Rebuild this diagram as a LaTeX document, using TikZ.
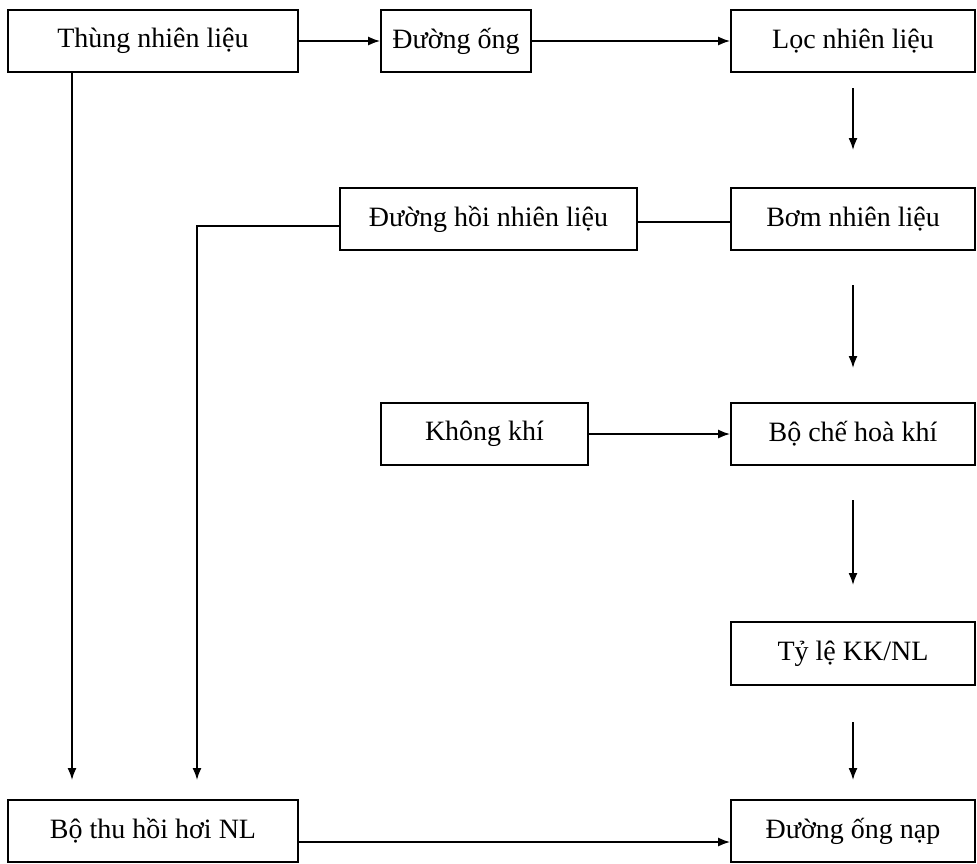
\documentclass[tikz,border=0pt]{standalone}
\usepackage{fontspec}
\setmainfont{Liberation Serif}
\usetikzlibrary{arrows.meta}
\begin{document}
\begin{tikzpicture}[x=1pt,y=-1pt,
  box/.style={draw,line width=1.8pt,inner sep=0pt,font=\fontsize{28}{32}\selectfont},
  arr/.style={line width=1.6pt,-{Latex[length=12pt,width=9pt]}},
  ln/.style={line width=1.6pt}]
\useasboundingbox (0,0) rectangle (977,863);
\newcommand{\bx}[6]{\node[box,minimum width=#4-#2,minimum height=#5-#3] (#1) at ({(#2+#4)/2},{(#3+#5)/2}) {#6};}
\bx{thung}{8}{10}{298}{72}{Thùng nhiên liệu}
\bx{duong}{381}{10}{531}{72}{Đường ống}
\bx{loc}{731}{10}{975}{72}{Lọc nhiên liệu}
\bx{hoi}{340}{188}{637}{250}{Đường hồi nhiên liệu}
\bx{bom}{731}{188}{975}{250}{Bơm nhiên liệu}
\bx{kk}{381}{403}{588}{465}{Không khí}
\bx{boche}{731}{403}{975}{465}{Bộ chế hoà khí}
\bx{tyle}{731}{622}{975}{685}{Tỷ lệ KK/NL}
\bx{thu}{8}{800}{298}{862}{Bộ thu hồi hơi NL}
\bx{nap}{731}{800}{975}{862}{Đường ống nạp}

\coordinate (a1) at (853,88);  \coordinate (a2) at (853,150);
\coordinate (b1) at (853,285); \coordinate (b2) at (853,368);
\coordinate (c1) at (853,500); \coordinate (c2) at (853,585);
\coordinate (d1) at (853,722); \coordinate (d2) at (853,780);
\coordinate (t2) at (72,780);
\coordinate (h1) at (197,226); \coordinate (h2) at (197,780);

\draw[arr] (thung.east) -- (duong.west);
\draw[arr] (duong.east) -- (loc.west);
\draw[arr] (a1) -- (a2);
\draw[arr] (b1) -- (b2);
\draw[arr] (c1) -- (c2);
\draw[arr] (d1) -- (d2);
\draw[arr] (thung.south -| t2) -- (t2);
\draw[ln] (bom.west |- 0,222) -- (hoi.east |- 0,222);
\draw[arr] (hoi.west |- h1) -- (h1) -- (h2);
\draw[arr] (kk.east) -- (boche.west);
\draw[arr] (thu.east |- 0,842) -- (nap.west |- 0,842);
\end{tikzpicture}
\end{document}
